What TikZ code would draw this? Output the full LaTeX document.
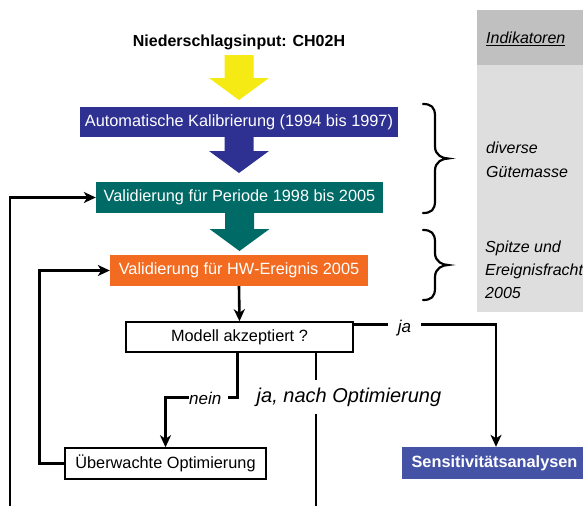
\documentclass[tikz,border=0pt]{standalone}
\usepackage{fontspec}
\setmainfont{Liberation Sans}
\usetikzlibrary{calc,arrows.meta}
\definecolor{cyellow}{HTML}{F5EA14}
\definecolor{cblue}{HTML}{2E3192}
\definecolor{cteal}{HTML}{006A66}
\definecolor{corange}{HTML}{F26B21}
\definecolor{csens}{HTML}{4453A5}
\definecolor{cgrayD}{HTML}{C0C0C0}
\definecolor{cgrayL}{HTML}{DEDEDE}
\newcommand\blockarr[3]{%
  \fill[#1] ($(#2)+(-14.5,0)$) -- ($(#2)+(14.5,0)$) -- ($(#3)+(14.5,-22)$) -- ($(#3)+(30,-22)$)
    -- (#3) -- ($(#3)+(-30,-22)$) -- ($(#3)+(-14.5,-22)$) -- cycle;}
\newcommand\sidebrace[3]{%
  \pgfmathsetmacro\bm{(#2+#3)/2}%
  \draw[bracestyle] (#1,#2) .. controls +(8,0) and +(0,-9) .. (#1+12,#2+12)
    -- (#1+12,\bm-12) .. controls +(0,9) and +(-5,0) .. (#1+25,\bm)
    .. controls +(-5,0) and +(0,-9) .. (#1+12,\bm+12)
    -- (#1+12,#3-12) .. controls +(0,9) and +(8,0) .. (#1,#3);}
\begin{document}
\begin{tikzpicture}[x=1pt,y=-1pt,
  every node/.style={font=\fontsize{16.3}{19}\selectfont},
  box/.style={rectangle, inner sep=0pt, text=white},
  wbox/.style={rectangle, inner sep=0pt, draw=black, line width=1.5pt, fill=white, text=black},
  conn/.style={line width=2.6pt, -{Stealth[length=12pt,width=11pt,inset=3.5pt]}},
  plain/.style={line width=2.6pt},
  lbl/.style={fill=white, font=\itshape\fontsize{17}{20}\selectfont},
  side/.style={anchor=west, inner sep=0pt, align=left},
  bracestyle/.style={line width=2.2pt, line cap=round}]
\useasboundingbox (0,0) rectangle (583,506);
% indicator panel
\fill[cgrayL] (477,65) rectangle (590,312);
\fill[cgrayD] (477,10) rectangle (590,65);
\node[side, font=\itshape\fontsize{16}{19}\selectfont] (ind) at (486,39) {\underline{Indikatoren}};
\node[side, font=\itshape\fontsize{16}{24}\selectfont] (gm) at (486,160) {diverse\\Gütemasse};
\node[side, font=\itshape\fontsize{16}{23}\selectfont] (sp) at (485,270) {Spitze und\\Ereignisfracht\\2005};
\sidebrace{423}{104}{213}
\sidebrace{423}{230}{300}
% main flow
\node[font=\bfseries\fontsize{16}{19}\selectfont] (title) at (239,42) {Niederschlagsinput: CH02H};
\node[box, fill=cblue, minimum width=318pt, minimum height=30pt] (kal) at (239,122) {Automatische Kalibrierung (1994 bis 1997)};
\node[box, fill=cteal, minimum width=287pt, minimum height=31pt] (val) at (239.5,197.5) {Validierung für Periode 1998 bis 2005};
\node[box, fill=corange, minimum width=258pt, minimum height=31pt] (hw) at (239,270.5) {Validierung für HW-Ereignis 2005};
\node[wbox, minimum width=227pt, minimum height=30pt] (mod) at (239.5,337) {Modell akzeptiert ?};
\node[wbox, minimum width=201pt, minimum height=31pt] (ueb) at (165.5,463.5) {Überwachte Optimierung};
\node[box, fill=csens, minimum width=185pt, minimum height=32pt, font=\bfseries\fontsize{16.3}{19}\selectfont] (sens) at (494.5,463) {Sensitivitätsanalysen};
% block arrows
\coordinate (ytop) at (239,55);
\coordinate (ytip) at (239,100);
\coordinate (btip) at (239,173);
\coordinate (ttip) at (239.5,251);
\blockarr{cyellow}{ytop}{ytip}
\blockarr{cblue}{kal.south}{btip}
\blockarr{cteal}{val.south}{ttip}
% connectors
\draw[conn] (hw.south) -- (mod.north);
\coordinate (jaL) at ($(mod.north east)+(0,3)$);
\draw[conn] (jaL) -| ($(sens.north)+(1.5,0)$);
\node[lbl, inner xsep=10pt] (ja) at (404.5,328) {ja};
\draw[conn] ($(mod.south)+(-2,0)$) |- ($(ueb.north)+(0,-50)$) -- (ueb.north);
\node[lbl, inner xsep=0pt, anchor=west] (nein) at (189,398) {nein\kern7pt};
\coordinate (jbot) at (316,506);
\draw[plain] (mod.south -| jbot) -- (jbot);
\node[fill=white, inner ysep=8pt, inner xsep=2pt, font=\itshape\fontsize{20}{24}\selectfont] (jno) at (349,397) {ja, nach Optimierung};
\draw[conn] (ueb.west) -- ++(-25,0) |- (hw.west);
\coordinate (obot) at (10,506);
\draw[conn] (obot) |- (val.west);
\end{tikzpicture}
\end{document}
